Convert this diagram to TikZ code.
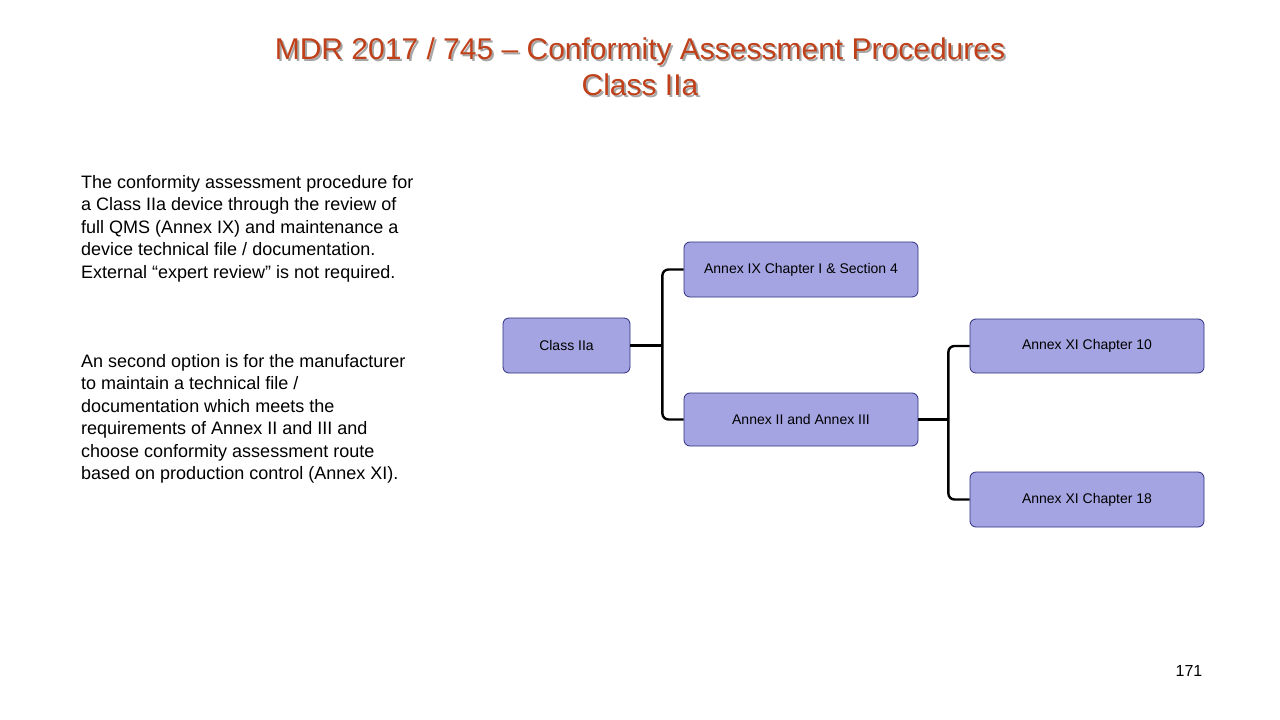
\documentclass[tikz,border=0pt]{standalone}
\usepackage{fontspec}
\setmainfont{Liberation Sans}
\usetikzlibrary{calc}
\definecolor{titlec}{HTML}{C0401A}
\definecolor{boxf}{HTML}{A4A4E2}
\definecolor{boxd}{HTML}{2E2E80}
\tikzset{
  bx/.style={draw=boxd, fill=boxf, rounded corners=6pt, line width=0.8pt, inner sep=0pt, font=\fontsize{14}{16}\selectfont},
  br/.style={line width=2.4pt, rounded corners=6pt},
  para/.style={anchor=north west, align=left, inner sep=0pt, font=\fontsize{18}{22.5}\selectfont}
}
\begin{document}
\begin{tikzpicture}[x=1pt,y=-1pt]
\useasboundingbox (0,0) rectangle (1280,720);
\node[text=black!35, font=\fontsize{30}{36}\selectfont, align=center] at (642,69) {MDR 2017 / 745 -- Conformity Assessment Procedures\\Class IIa};
\node (title) [text=titlec, font=\fontsize{30}{36}\selectfont, align=center] at (640,67) {MDR 2017 / 745 -- Conformity Assessment Procedures\\Class IIa};
\node (p1) [para] at (81,175) {The conformity assessment procedure for\\a Class IIa device through the review of\\full QMS (Annex IX) and maintenance a\\device technical file / documentation.\\External “expert review” is not required.};
\node (p2) [para] at (81,354) {An second option is for the manufacturer\\to maintain a technical file /\\documentation which meets the\\requirements of Annex II and III and\\choose conformity assessment route\\based on production control (Annex XI).};
\node (c) [bx, minimum width=127pt, minimum height=55pt] at (566.5,345.5) {Class IIa};
\node (a9) [bx, minimum width=234pt, minimum height=55pt] at (801,269.5) {Annex IX Chapter I \& Section 4};
\node (a2) [bx, minimum width=234pt, minimum height=53pt] at (801,419.5) {Annex II and Annex III};
\node (x10) [bx, minimum width=234pt, minimum height=54pt] at (1087,346) {Annex XI Chapter 10};
\node (x18) [bx, minimum width=234pt, minimum height=55pt] at (1087,499.5) {Annex XI Chapter 18};
\coordinate (j1) at ($(c.east)+(32,0)$);
\coordinate (j2) at ($(a2.east)+(30,0)$);
\draw[br] (c.east) -- (j1);
\draw[br] (a9.west) -| (j1) |- (a2.west);
\draw[br] (a2.east) -- (j2);
\draw[br] (x10.west) -| (j2) |- (x18.west);
\node (num) [font=\fontsize{16}{18}\selectfont] at (1189,671) {171};
\end{tikzpicture}
\end{document}
